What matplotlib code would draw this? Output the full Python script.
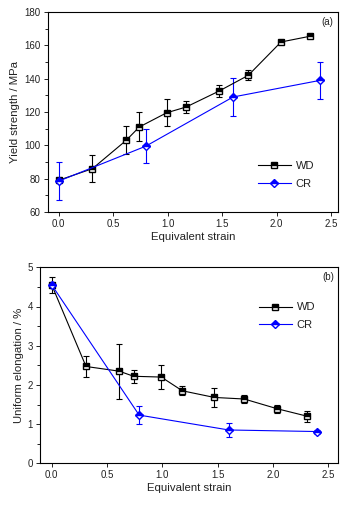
import matplotlib
matplotlib.use("Agg")
import matplotlib.pyplot as plt
from matplotlib.lines import Line2D
from matplotlib.ticker import MultipleLocator

plt.rcParams['font.family'] = ['Liberation Sans', 'DejaVu Sans']

# (a) yield strength
wd_x_a = [0.0, 0.31, 0.62, 0.74, 0.99, 1.17, 1.47, 1.74, 2.04, 2.31]
wd_y_a = [79, 86, 103, 111, 119.5, 123, 132.5, 142, 162, 165.5]
wd_err_a = [0, 8, 8.5, 8.7, 8, 3.8, 3.8, 3, 0, 0]
cr_x_a = [0.0, 0.8, 1.6, 2.4]
cr_y_a = [78.5, 99.5, 129, 139]
cr_err_a = [11.5, 10.3, 11.5, 11]

# (b) uniform elongation
wd_x_b = [0.0, 0.31, 0.61, 0.74, 0.99, 1.18, 1.47, 1.74, 2.04, 2.31]
wd_y_b = [4.55, 2.47, 2.35, 2.22, 2.2, 1.85, 1.68, 1.64, 1.39, 1.2]
wd_err_b = [0.2, 0.26, 0.7, 0.17, 0.3, 0.11, 0.25, 0.09, 0.11, 0.14]
cr_x_b = [0.0, 0.79, 1.6, 2.4]
cr_y_b = [4.55, 1.23, 0.85, 0.81]
cr_err_b = [0.07, 0.23, 0.18, 0.05]

W, H = 357, 505
fig = plt.figure(figsize=(W / 100, H / 100), dpi=100)
txt = '#222222'
styles = [dict(color='black', marker='s', ms=3.8, label='WD'),
          dict(color='#0000ff', marker='D', ms=4.3, label='CR')]


def panel(rect, xlim, xs, ys, errs, ylim, ymaj, ymin, ylabel, tag, leg_pos):
    ax = fig.add_axes(rect)
    handles = []
    for x, y, e, st in zip(xs, ys, errs, styles):
        ax.errorbar(x, y, yerr=e, color=st['color'], marker=st['marker'], ms=st['ms'],
                    mfc=st['color'], mec=st['color'], fillstyle='top', mfcalt='white',
                    lw=0.8, elinewidth=0.8, capsize=2, capthick=0.8)
        handles.append(Line2D([], [], color=st['color'], marker=st['marker'], ms=st['ms'],
                              mfc=st['color'], mec=st['color'], fillstyle='top',
                              mfcalt='white', lw=0.8, label=st['label']))
    ax.set_xlim(*xlim)
    ax.set_ylim(*ylim)
    ax.set_xticks([0.0, 0.5, 1.0, 1.5, 2.0, 2.5])
    ax.set_xticklabels(['0.0', '0.5', '1.0', '1.5', '2.0', '2.5'])
    ax.yaxis.set_major_locator(MultipleLocator(ymaj))
    ax.yaxis.set_minor_locator(MultipleLocator(ymin))
    ax.tick_params(which='major', direction='out', length=3, width=0.7, labelsize=7, colors=txt, pad=2)
    ax.tick_params(which='minor', direction='out', length=2, width=0.6)
    for s in ax.spines.values():
        s.set_linewidth(0.8)
    ax.set_xlabel('Equivalent strain', fontsize=8.2, color=txt, labelpad=2)
    ax.set_ylabel(ylabel, fontsize=8.2, color=txt, labelpad=3)
    ax.text(0.985, 0.975, '(%s)' % tag, transform=ax.transAxes, ha='right', va='top',
            fontsize=7, color=txt)
    leg = ax.legend(handles=handles, loc='center left', bbox_to_anchor=leg_pos, frameon=False,
                    fontsize=8, handlelength=3.0, handletextpad=0.4, labelspacing=0.7)
    for t in leg.get_texts():
        t.set_color(txt)
    return ax


panel([47.7 / W, 1 - 212 / H, (337.7 - 47.7) / W, 200 / H], (-0.1, 2.56),
      [wd_x_a, cr_x_a], [wd_y_a, cr_y_a], [wd_err_a, cr_err_a],
      (60, 180), 20, 10, 'Yield strength / MPa', 'a', (0.69, 0.185))

panel([40 / W, 1 - 463.3 / H, (338.3 - 40) / W, 196 / H], (-0.106, 2.59),
      [wd_x_b, cr_x_b], [wd_y_b, cr_y_b], [wd_err_b, cr_err_b],
      (0, 5), 1, 0.5, 'Uniform elongation / %', 'b', (0.7, 0.75))

fig.savefig('out.png', dpi=100)
